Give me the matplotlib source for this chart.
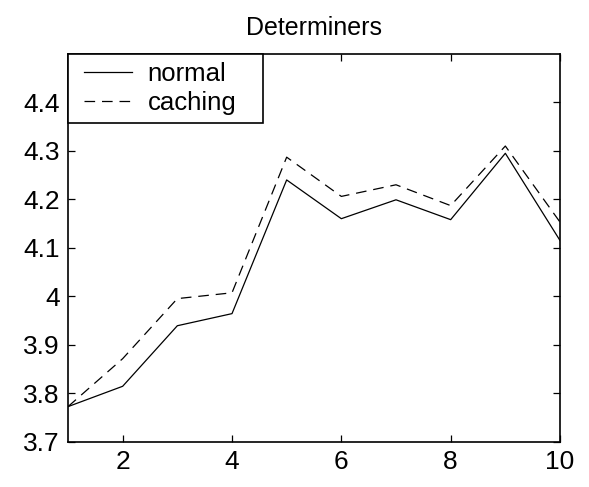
import matplotlib
matplotlib.use('Agg')
import matplotlib.pyplot as plt
from matplotlib.lines import Line2D
from matplotlib.legend_handler import HandlerLine2D

plt.rcParams['font.family'] = ['Liberation Sans', 'DejaVu Sans']

x = [1, 2, 3, 4, 5, 6, 7, 8, 9, 10]
normal = [3.772, 3.814, 3.939, 3.964, 4.240, 4.160, 4.199, 4.158, 4.295, 4.115]
caching = [3.772, 3.871, 3.995, 4.007, 4.287, 4.206, 4.230, 4.187, 4.310, 4.153]

yticks = [3.7, 3.8, 3.9, 4.0, 4.1, 4.2, 4.3, 4.4]
yticklabels = ['3.7', '3.8', '3.9', '4', '4.1', '4.2', '4.3', '4.4']
xticks = [2, 4, 6, 8, 10]

fig = plt.figure(figsize=(5.89, 4.87), dpi=100)
ax = fig.add_axes([68 / 589, (487 - 441.5) / 487, (560 - 68) / 589, (441.5 - 54) / 487])

ax.plot(x, normal, color='black', lw=0.9, label='normal')
ax.plot(x, caching, color='black', lw=0.9, linestyle=(0, (8.5, 5.5)), label='caching')

ax.set_xlim(1, 10)
ax.set_ylim(3.7, 4.5)
ax.set_xticks(xticks)
ax.set_yticks(yticks)
ax.set_yticklabels(yticklabels)
ax.tick_params(direction='in', length=5, width=0.9, labelsize=19, pad=6)
ax.tick_params(top=True, right=True)
for sp in ax.spines.values():
    sp.set_linewidth(1.2)

ax.set_title('Determiners', fontsize=18, pad=14)

# expand mode stretches the frame to the given width, like matlab's wide box
leg = ax.legend(loc='upper left', fontsize=18.5, frameon=True, fancybox=False,
                edgecolor='black', framealpha=1, borderaxespad=0,
                bbox_to_anchor=(0, 1, 0.397, 0), mode='expand',
                handler_map={Line2D: HandlerLine2D(xpad=0.31)},
                handlelength=2.18, handletextpad=0.62, borderpad=0.3,
                labelspacing=0.22)
leg.get_frame().set_linewidth(1.2)

fig.savefig('out.png', dpi=100)
